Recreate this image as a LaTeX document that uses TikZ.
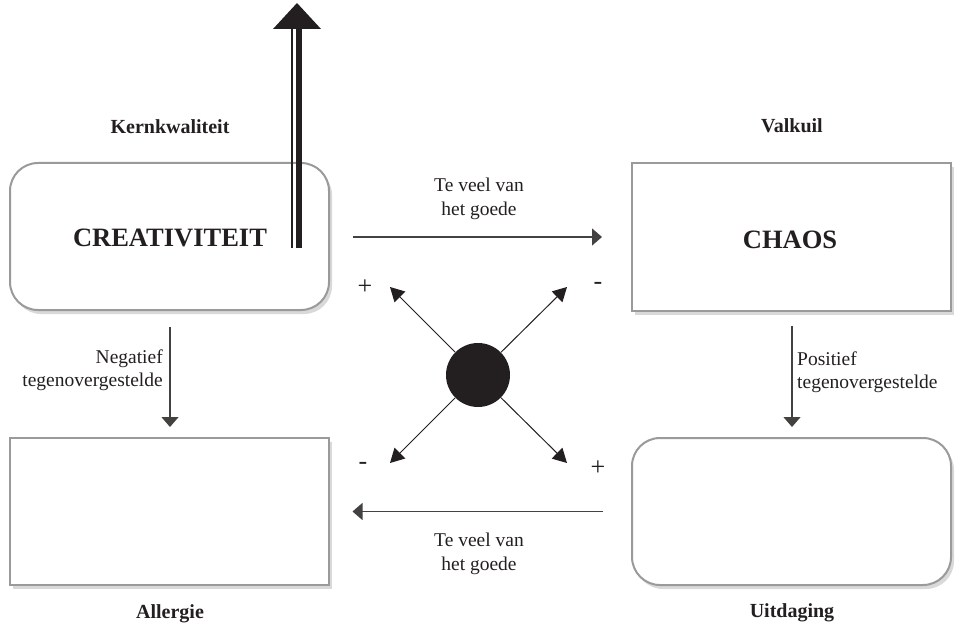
\documentclass[tikz,border=0pt]{standalone}
\usepackage{fontspec}
\setmainfont{Liberation Serif}
\usetikzlibrary{arrows.meta,shadows}
\definecolor{ink}{HTML}{231F20}
\definecolor{boxgray}{HTML}{9A9A9C}
\tikzset{
  box/.style={draw=boxgray, line width=2pt, fill=white, minimum width=319pt, minimum height=147pt, inner sep=0pt,
    drop shadow={shadow xshift=3pt, shadow yshift=-4pt, opacity=0.25, fill=black!60}},
  rbox/.style={box, rounded corners=28pt},
  title/.style={font=\fontsize{20}{23}\selectfont\bfseries, text=ink, inner sep=0pt},
  big/.style={font=\fontsize{26.5}{30}\selectfont\bfseries, text=ink, inner sep=0pt},
  lbl/.style={font=\fontsize{19.5}{23.5}\selectfont, text=ink, inner sep=0pt},
  sign/.style={font=\fontsize{26}{28}\selectfont, text=ink, inner sep=0pt},
  conn/.style={draw=ink!85, line width=1.3pt, -{Triangle[length=10pt,width=17pt]}},
  diag/.style={draw=ink, line width=1pt, -{Triangle[length=14pt,width=15pt]}},
}
\begin{document}
\begin{tikzpicture}[x=1pt,y=-1pt]
\useasboundingbox (0,0) rectangle (963,631);
% boxes
\node[rbox] (TL) at (169.5,236.5) {};
\node[box]  (TR) at (791.5,237) {};
\node[box]  (BL) at (169,511.5) {};
\node[rbox] (BR) at (791.5,511.5) {};
% box texts
\node[big] (creat) at (170,238) {CREATIVITEIT};
\node[big] (chaos) at (790,240) {CHAOS};
% titles
\node[title] (kern) at (170,127) {Kernkwaliteit};
\node[title] (valk) at (792,126) {Valkuil};
\node[title] (aller) at (170,614) {Allergie};
\node[title] (uitd) at (792,613) {Uitdaging};
% horizontal arrows
\draw[conn] ([xshift=23pt,yshift=-0.5pt]TL.east) -- ([xshift=-29pt]TR.west);
\node[lbl, align=center] (top) at (479,199) {Te veel van\\het goede};
\draw[conn] ([xshift=-28pt]BR.west) -- ([xshift=23pt]BL.east);
\node[lbl, align=center] (bot) at (479,554) {Te veel van\\het goede};
% vertical arrows
\draw[conn] ([xshift=0.5pt,yshift=-16pt]TL.south) -- ([xshift=1pt,yshift=10pt]BL.north);
\node[lbl, align=right, anchor=east] (neg) at (163,370) {Negatief\\tegenovergestelde};
\draw[conn] ([xshift=0.5pt,yshift=-14pt]TR.south) -- ([xshift=0.5pt,yshift=10pt]BR.north);
\node[lbl, align=left, anchor=west] (pos) at (797,372) {Positief\\tegenovergestelde};
% centre
\node[circle, fill=ink, minimum size=64pt, inner sep=0pt] (C) at (478,375) {};
\coordinate (dTL) at (390,287);
\coordinate (dTR) at (567,287);
\coordinate (dBL) at (390,463);
\coordinate (dBR) at (567,463);
\draw[diag] (C) -- (dTL);
\draw[diag] (C) -- (dTR);
\draw[diag] (C) -- (dBL);
\draw[diag] (C) -- (dBR);
\node[sign] (pTL) at (365,287) {+};
\node[sign] (mTR) at (598,286) {-};
\node[sign] (mBL) at (363,466) {-};
\node[sign] (pBR) at (598,468) {+};
% double upward arrow
\coordinate (thinB) at (292,248);
\coordinate (thinT) at (292,28);
\coordinate (thickB) at (298.5,248);
\coordinate (thickT) at (298.5,28);
\coordinate (hl) at (273,29);
\coordinate (hr) at (321,29);
\coordinate (ht) at (297,3);
\draw[ink, line width=1.5pt] (thinB) -- (thinT);
\draw[ink, line width=6pt] (thickB) -- (thickT);
\fill[ink] (hl) -- (hr) -- (ht) -- cycle;
\end{tikzpicture}
\end{document}
